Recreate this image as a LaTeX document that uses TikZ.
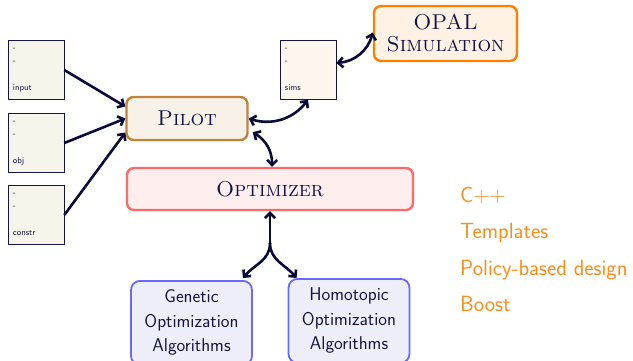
\documentclass[tikz,border=0pt]{standalone}
\usepackage{fontspec}
\usetikzlibrary{arrows.meta}
\definecolor{ink}{RGB}{20,20,70}
\definecolor{wire}{RGB}{10,10,60}
\definecolor{pilotline}{RGB}{195,130,60}
\definecolor{pilotfill}{RGB}{248,241,232}
\definecolor{opalline}{RGB}{255,128,0}
\definecolor{opalfill}{RGB}{255,242,228}
\definecolor{optline}{RGB}{255,105,105}
\definecolor{optfill}{RGB}{255,238,238}
\definecolor{algline}{RGB}{105,105,255}
\definecolor{algfill}{RGB}{238,238,250}
\definecolor{datafill}{RGB}{245,245,236}
\definecolor{simsfill}{RGB}{255,246,238}
\definecolor{techorange}{RGB}{255,140,26}
\tikzset{
  databox/.style={draw=ink, line width=0.6pt, minimum width=56pt, minimum height=59pt,
    inner sep=0pt},
  datatext/.style={text=ink, font=\sffamily\fontsize{8.6}{10}\selectfont, anchor=base west, inner sep=0pt},
  bigbox/.style={rounded corners=7pt, line width=2.4pt, text=ink,
    font=\rmfamily\fontsize{21.5}{24}\selectfont\scshape, align=center},
  algbox/.style={rounded corners=9pt, line width=1.8pt, draw=algline, fill=algfill,
    text=ink, font=\sffamily\fontsize{18.5}{24.5}\selectfont, align=center,
    minimum width=121pt, minimum height=84pt, anchor=north},
  link/.style={line width=2.6pt, draw=wire, >={Straight Barb[length=5pt,width=10pt]}},
  tech/.style={text=techorange, font=\sffamily\fontsize{22}{24}\selectfont, anchor=base west, inner sep=0pt}
}
\begin{document}
\begin{tikzpicture}[x=1pt,y=-1pt]
\useasboundingbox (0,0) rectangle (633,361);
\clip (0,0) rectangle (633,361);

% data files feeding the pilot
\node[databox, fill=datafill] (input) at (36,70) {};
\node[databox, fill=datafill] (obj) at (36,143) {};
\node[databox, fill=datafill] (constr) at (36,215) {};
\node[databox, fill=simsfill] (sims) at (308,70) {};
\foreach \b/\t in {input/input, obj/obj, constr/constr, sims/sims}{
  \node[datatext] at ([xshift=5pt,yshift=-10pt]\b.north west) {-};
  \node[datatext] at ([xshift=5pt,yshift=-23pt]\b.north west) {-};
  \node[datatext] at ([xshift=5pt,yshift=-50pt]\b.north west) {\t};
}

% main components
\node[bigbox, draw=pilotline, fill=pilotfill, minimum width=121pt, minimum height=43pt] (pilot) at (187,118.5) {Pilot};
\node[bigbox, draw=opalline, fill=opalfill, minimum width=143pt, minimum height=55pt, inner sep=1pt] (opal) at (445.5,33.5) {OPAL\\[-2pt]Simulation};
\node[bigbox, draw=optline, fill=optfill, minimum width=286pt, minimum height=42pt] (opt) at (270,189) {Optimizer};

\node[algbox] (gen) at (191.5,280) {Genetic\\Optimization\\Algorithms};
\node[algbox] (hom) at (349,278) {Homotopic\\Optimization\\Algorithms};

% connections
\draw[link,->] (input.east) -- ([yshift=12pt]pilot.west);
\draw[link,->] (obj.east) -- (pilot.west);
\draw[link,->] (constr.east) -- ([yshift=-14pt]pilot.west);
\draw[link,<->] (pilot.east) to[bend right=35] (sims.south);
\draw[link,<->] ([yshift=7pt]sims.east) to[bend right=35] ([yshift=1pt]opal.west);
\draw[link,<->] ([xshift=4pt,yshift=9pt]pilot.south east) to[bend left=30] ([xshift=2pt]opt.north);
\coordinate (split) at ([yshift=-32pt]opt.south);
\draw[link,<-] (opt.south) -- (split);
\draw[link,->] (split) to[out=270,in=50] ([xshift=-10pt,yshift=2pt]gen.north east);
\draw[link,->] (split) to[out=270,in=130] ([xshift=9pt]hom.north west);

% implementation notes
\node[tech] (cpp) at (460,203) {C++};
\node[tech] (tmpl) at (460,238) {Templates};
\node[tech] (policy) at (460,275) {Policy-based design};
\node[tech] (boost) at (460,311) {Boost};
\end{tikzpicture}
\end{document}
